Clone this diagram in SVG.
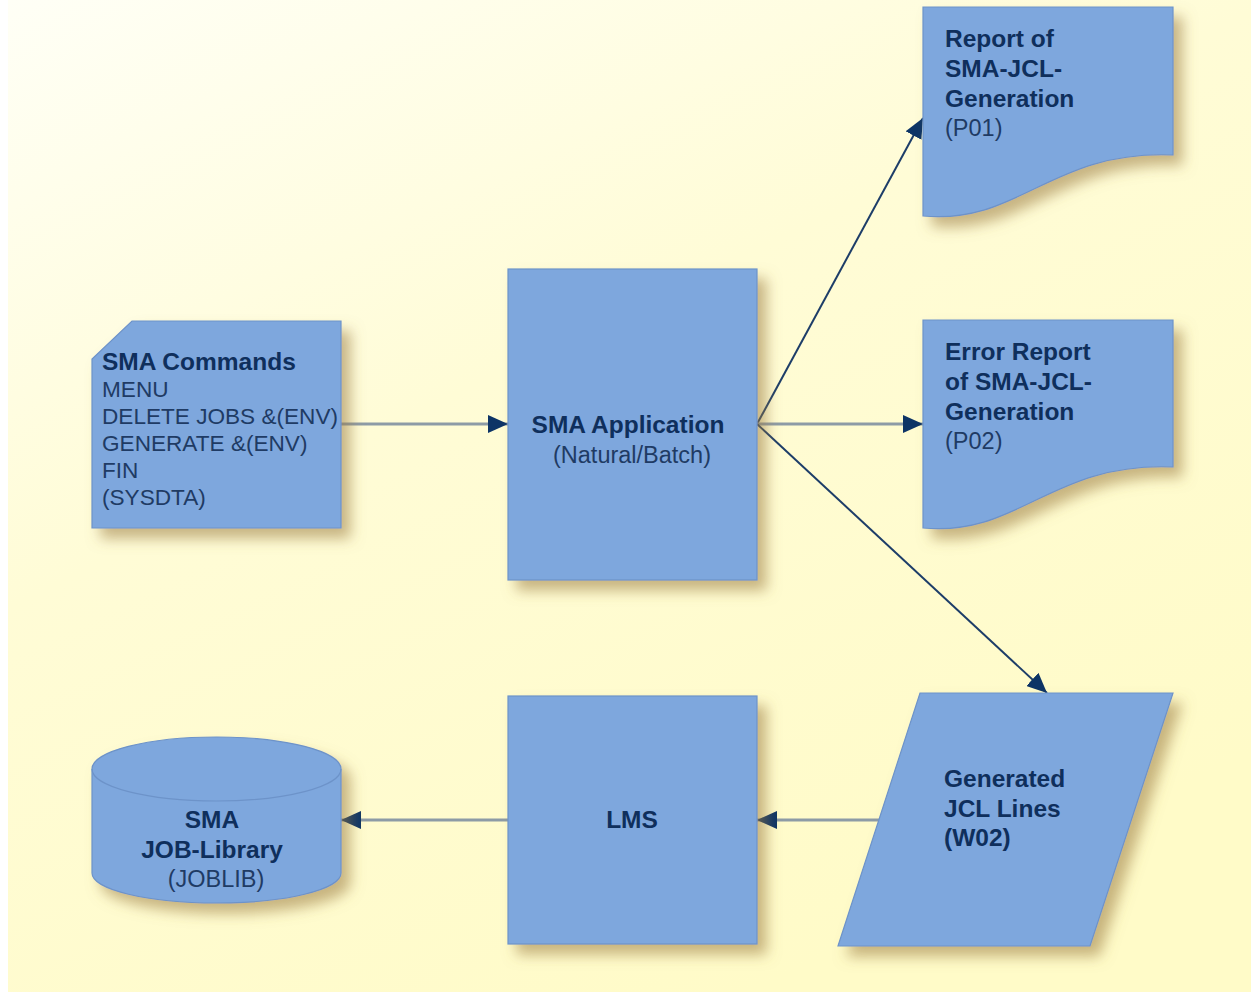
<svg xmlns="http://www.w3.org/2000/svg" width="1251" height="992" viewBox="0 0 1251 992">
<defs>
<linearGradient id="bg" x1="0" y1="0" x2="0.6" y2="1">
<stop offset="0" stop-color="#fffff6"/>
<stop offset="0.45" stop-color="#fffcd6"/>
<stop offset="1" stop-color="#fffbc8"/>
</linearGradient>
<filter id="sh" x="-20%" y="-20%" width="150%" height="150%">
<feDropShadow dx="9" dy="10" stdDeviation="7" flood-color="#9a7a40" flood-opacity="0.55"/>
</filter>
<marker id="ah" viewBox="0 0 20 18" refX="20" refY="9" markerWidth="20" markerHeight="18" markerUnits="userSpaceOnUse" orient="auto">
<path d="M0,0 L20,9 L0,18 Z" fill="#0d3466"/>
</marker>
</defs>
<style>
.node{fill:#7ea7dd;stroke:#6d93c9;stroke-width:1.2;filter:url(#sh)}
.b{font-family:"Liberation Sans",Arial,sans-serif;font-weight:bold;font-size:24.5px;fill:#0f2f5c}
.r{font-family:"Liberation Sans",Arial,sans-serif;font-size:23.5px;fill:#1f3b64}
.s{font-size:22.6px}
.g{stroke:#8d9ba6;stroke-width:3;fill:none}
.d{stroke:#1d3d68;stroke-width:2;fill:none}
</style>
<rect x="0" y="0" width="1251" height="992" fill="#ffffff"/>
<rect x="8" y="0" width="1243" height="992" fill="url(#bg)"/>
<g id="connectors">
<line class="g" x1="341" y1="424" x2="508" y2="424" marker-end="url(#ah)"/>
<line class="d" x1="757" y1="424" x2="923" y2="118" marker-end="url(#ah)"/>
<line class="g" x1="757" y1="424" x2="923" y2="424" marker-end="url(#ah)"/>
<line class="d" x1="757" y1="424" x2="1047" y2="693" marker-end="url(#ah)"/>
<line class="g" x1="880" y1="820" x2="757" y2="820" marker-end="url(#ah)"/>
<line class="g" x1="508" y1="820" x2="341" y2="820" marker-end="url(#ah)"/>
</g>
<g id="sma-commands">
<path class="node" d="M132,321 H341 V528 H92 V359 Z"/>
<text class="b" x="102" y="370">SMA Commands</text>
<text class="r s" x="102" y="397">MENU</text>
<text class="r s" x="102" y="424">DELETE JOBS &amp;(ENV)</text>
<text class="r s" x="102" y="451">GENERATE &amp;(ENV)</text>
<text class="r s" x="102" y="478">FIN</text>
<text class="r s" x="102" y="505">(SYSDTA)</text>
</g>
<g id="sma-application">
<rect class="node" x="508" y="269" width="249" height="311"/>
<text class="b" x="628" y="433" text-anchor="middle">SMA Application</text>
<text class="r" x="632" y="463" text-anchor="middle">(Natural/Batch)</text>
</g>
<g id="report-p01">
<path class="node" d="M923,7 H1173 V155 C1050,150 1020,225 923,216 Z"/>
<text class="b" x="945" y="47">Report of</text>
<text class="b" x="945" y="77">SMA-JCL-</text>
<text class="b" x="945" y="107">Generation</text>
<text class="r" x="945" y="136">(P01)</text>
</g>
<g id="report-p02">
<path class="node" d="M923,320 H1173 V467 C1050,462 1020,537 923,528 Z"/>
<text class="b" x="945" y="360">Error Report</text>
<text class="b" x="945" y="390">of SMA-JCL-</text>
<text class="b" x="945" y="420">Generation</text>
<text class="r" x="945" y="449">(P02)</text>
</g>
<g id="jcl-lines">
<path class="node" d="M920,693 H1173 L1090,946 H838 Z"/>
<text class="b" x="944" y="787">Generated</text>
<text class="b" x="944" y="817">JCL Lines</text>
<text class="b" x="944" y="846">(W02)</text>
</g>
<g id="lms">
<rect class="node" x="508" y="696" width="249" height="248"/>
<text class="b" x="632" y="828" text-anchor="middle">LMS</text>
</g>
<g id="job-library">
<path class="node" d="M92,769 A124.5,32 0 0 1 341,769 V873 A124.5,30 0 0 1 92,873 Z"/>
<path d="M92,769 A124.5,32 0 0 0 341,769" fill="none" stroke="#6d93c9" stroke-width="1.2"/>
<text class="b" x="212" y="828" text-anchor="middle">SMA</text>
<text class="b" x="212" y="858" text-anchor="middle">JOB-Library</text>
<text class="r" x="216" y="887" text-anchor="middle">(JOBLIB)</text>
</g>
</svg>
